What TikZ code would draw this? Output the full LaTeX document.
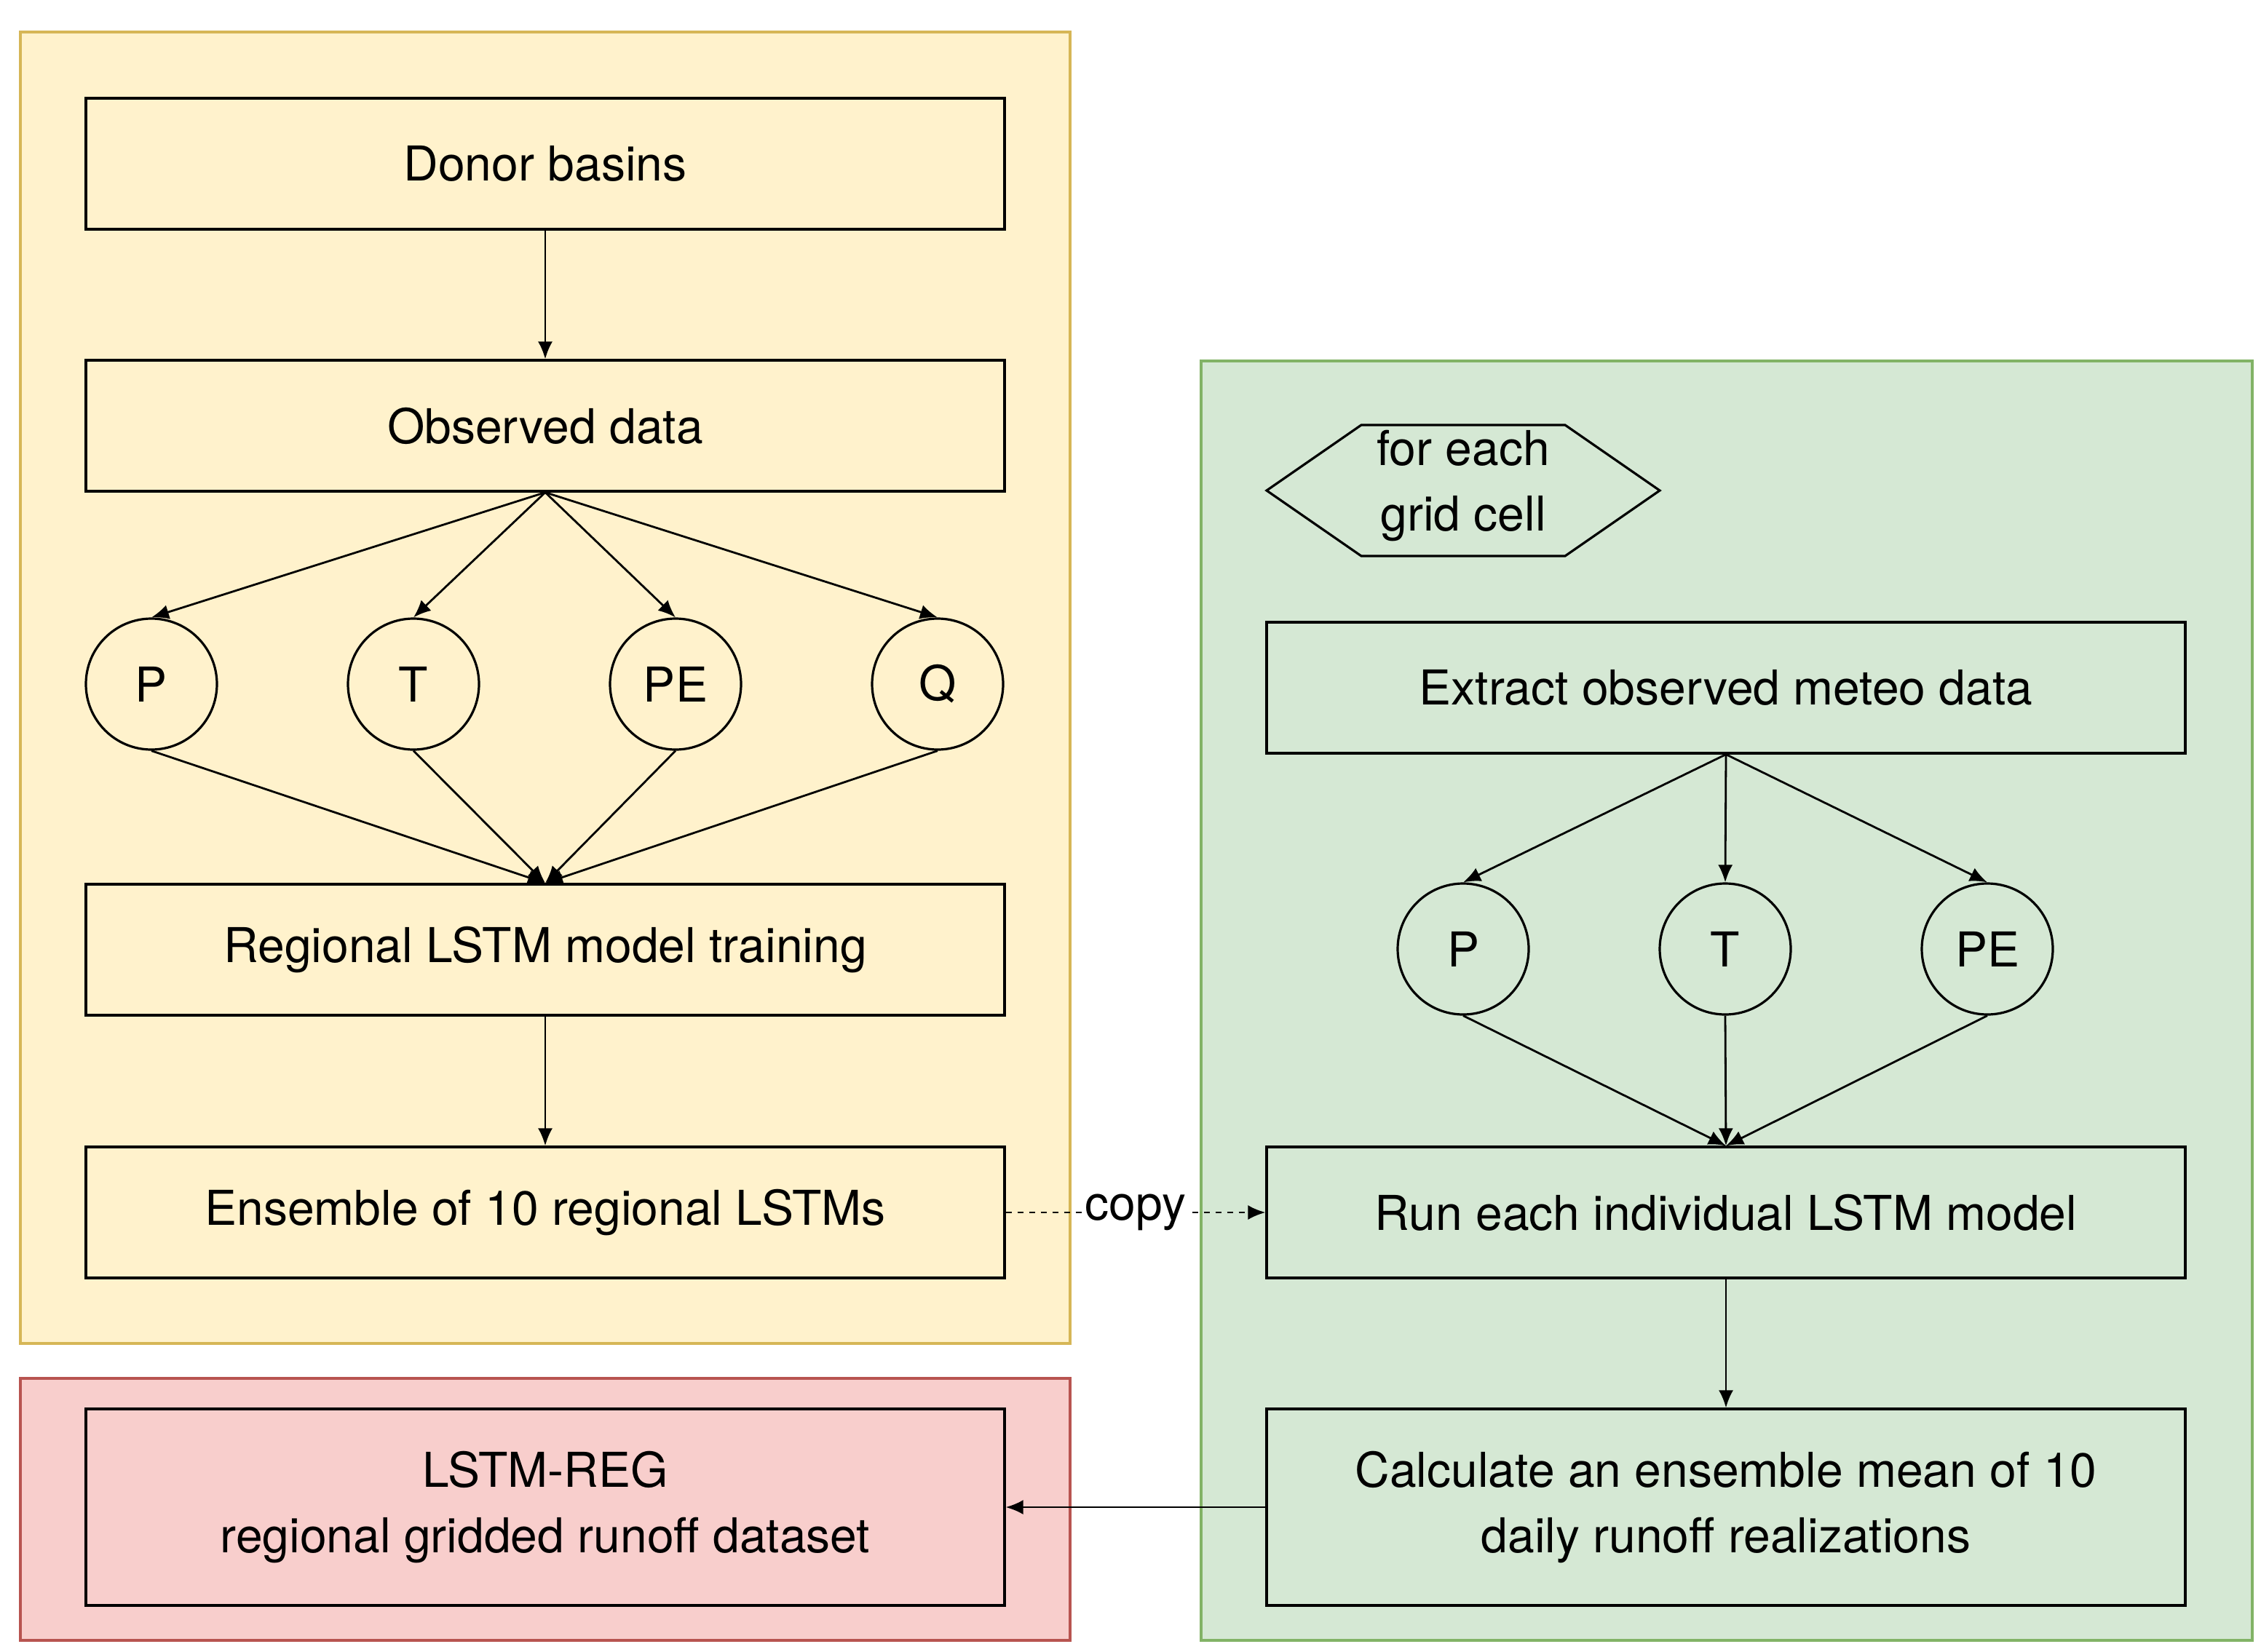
\documentclass[tikz,border=0pt]{standalone}
\usepackage{fontspec}
\setmainfont{TeX Gyre Heros}
\usetikzlibrary{arrows.meta}
\definecolor{yfill}{HTML}{FFF2CC}\definecolor{ydraw}{HTML}{D6B656}
\definecolor{gfill}{HTML}{D5E8D4}\definecolor{gdraw}{HTML}{82B366}
\definecolor{rfill}{HTML}{F8CECC}\definecolor{rdraw}{HTML}{B85450}
\begin{document}
\begin{tikzpicture}[x=1pt,y=-1pt,
  every node/.style={font=\fontsize{33}{45}\selectfont, line width=1.6pt},
  box/.style={draw=black, minimum width=631pt, minimum height=90pt, inner sep=0pt, align=center},
  tall/.style={box, minimum height=135pt},
  circ/.style={draw=black, circle, minimum size=90pt, inner sep=0pt},
  arr/.style={line width=1.4pt, -{Latex[length=12pt,width=10pt]}},
  panel/.style={line width=1.6pt}]
\useasboundingbox (0,0) rectangle (1553,1135);
\filldraw[panel, fill=yfill, draw=ydraw] (14,22) rectangle (735,923);
\filldraw[panel, fill=rfill, draw=rdraw] (14,947) rectangle (735,1127);
\filldraw[panel, fill=gfill, draw=gdraw] (825,248) rectangle (1547,1127);
\node[box, fill=yfill] (donor) at (374.5,112.5) {Donor basins};
\node[box, fill=yfill] (obs) at (374.5,292.5) {Observed data};
\node[circ] (p1) at (104,470) {P};
\node[circ] (t1) at (284,470) {T};
\node[circ] (pe1) at (464,470) {PE};
\node[circ] (q1) at (644,470) {Q};
\node[box, fill=yfill] (reg) at (374.5,652.5) {Regional LSTM model training};
\node[box, fill=yfill] (ens) at (374.5,833) {Ensemble of 10 regional LSTMs};
\node[tall, fill=rfill] (out) at (374.5,1035.5) {LSTM-REG\\regional gridded runoff dataset};
\draw[line width=1.6pt] (870,337) -- (935,292) -- (1075,292) -- (1140,337) -- (1075,382) -- (935,382) -- cycle;
\node[align=center] (hex) at (1005,334) {for each\\grid cell};
\node[box] (ext) at (1185.5,472.5) {Extract observed meteo data};
\node[circ] (p2) at (1005,652) {P};
\node[circ] (t2) at (1185,652) {T};
\node[circ] (pe2) at (1365,652) {PE};
\node[box] (run) at (1185.5,833) {Run each individual LSTM model};
\node[tall] (calc) at (1185.5,1035.5) {Calculate an ensemble mean of 10\\daily runoff realizations};
\draw[arr] (donor) -- (obs);
\foreach \c in {p1,t1,pe1,q1} \draw[arr] (obs.south) -- (\c.north);
\foreach \c in {p1,t1,pe1,q1} \draw[arr] (\c.south) -- (reg.north);
\draw[arr] (reg) -- (ens);
\draw[arr, dash pattern=on 4pt off 4pt] (ens) -- node[fill=white, inner sep=1pt] {copy} (run);
\foreach \c in {p2,t2,pe2} \draw[arr] (ext.south) -- (\c.north);
\foreach \c in {p2,t2,pe2} \draw[arr] (\c.south) -- (run.north);
\draw[arr] (run) -- (calc);
\draw[arr] (calc) -- (out);
\end{tikzpicture}
\end{document}
